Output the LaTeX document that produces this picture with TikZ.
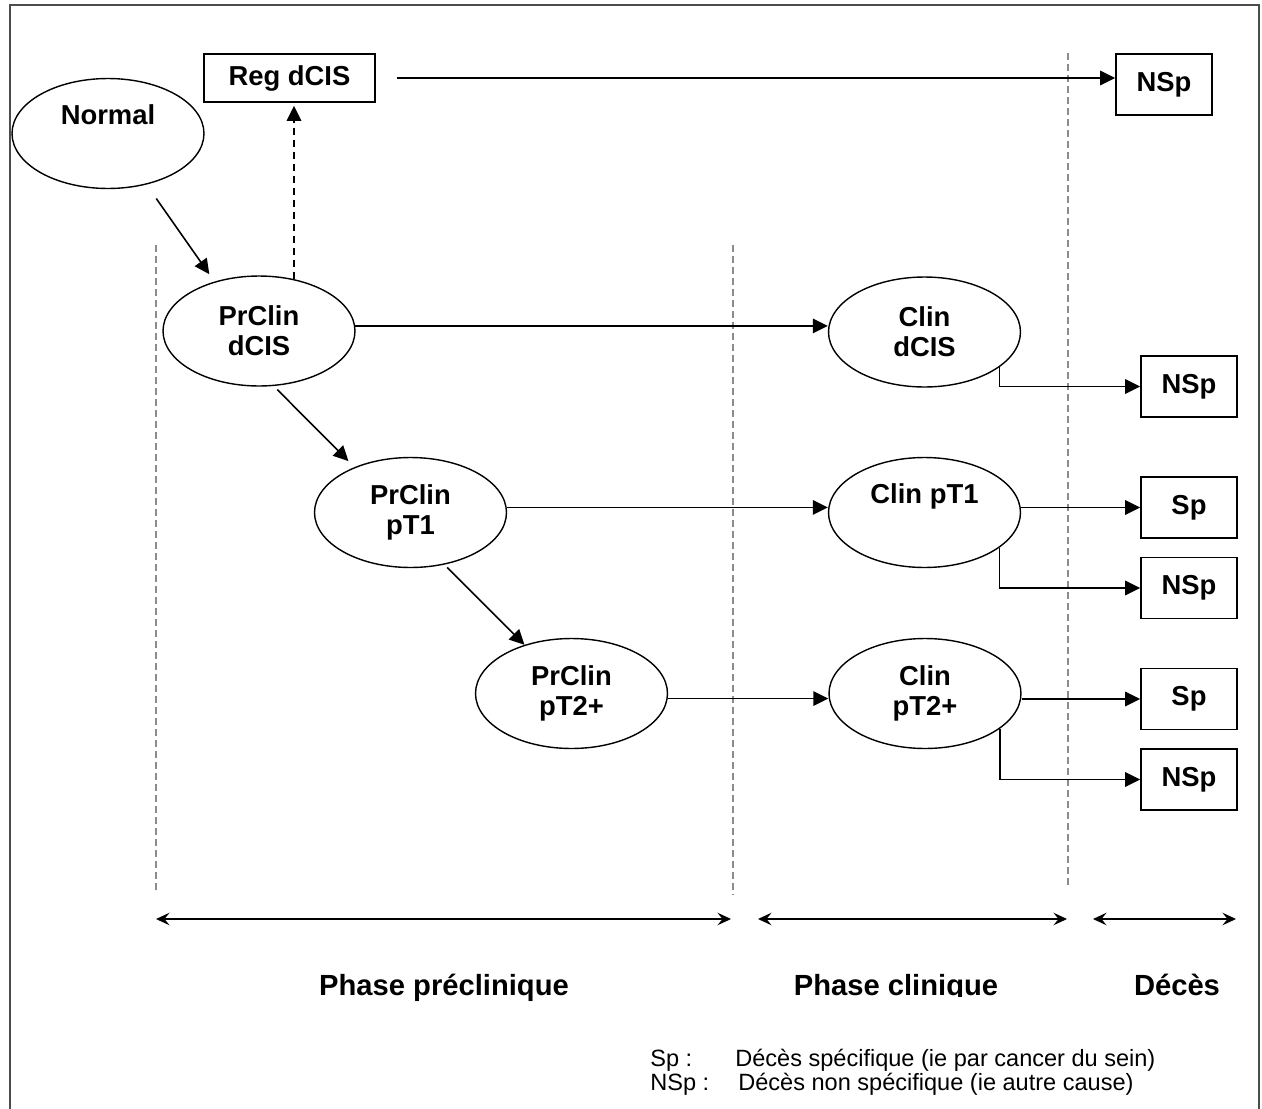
\documentclass[tikz,border=0pt]{standalone}
\usepackage{fontspec}
\setmainfont{Liberation Sans}
\usetikzlibrary{shapes,arrows.meta,positioning,calc}

\begin{document}
\begin{tikzpicture}[x=0.02cm, y=-0.02cm,
    state/.style={ellipse, draw, line width=0.8pt, minimum width=3.84cm, minimum height=2.2cm, inner sep=0pt, align=center, font=\bfseries\fontsize{15.6}{17}\selectfont},
    outcome/.style={rectangle, draw, line width=0.9pt, minimum width=1.92cm, minimum height=1.22cm, inner sep=0pt, font=\bfseries\fontsize{15.6}{17}\selectfont},
    arrow/.style={-{Triangle[length=0.3cm, width=0.29cm]}, line width=0.9pt},
    dasharrow/.style={arrow, dash pattern=on 0.14cm off 0.1cm},
    phaseline/.style={black!45, line width=0.7pt, dash pattern=on 0.14cm off 0.08cm},
    span/.style={{Stealth[length=0.27cm, width=0.25cm, inset=0.1cm]}-{Stealth[length=0.27cm, width=0.25cm, inset=0.1cm]}, line width=0.9pt},
    phase/.style={anchor=base, font=\bfseries\fontsize{16.6}{18}\selectfont},
    legend/.style={anchor=base west, inner sep=0pt, font=\fontsize{13.4}{16}\selectfont}
]
\useasboundingbox (0,0) rectangle (1262,1109);

% Frame
\draw[black!70, line width=0.9pt] (10,1109) |- (1259,5) -- (1259,1109);

% Phase separators
\draw[phaseline] (156,245) -- (156,893);
\draw[phaseline] (733,245) -- (733,895);
\draw[phaseline] (1068,53) -- (1068,887);

% Preclinical phase
\node[state] (normal) at (108,133.5) {Normal\\\strut};
\node[outcome, minimum width=3.42cm, minimum height=0.96cm] (regdcis) at (289.5,78) {Reg dCIS};
\node[state] (prdcis) at (259,331) {PrClin\\dCIS};
\node[state] (prpt1) at (410.5,512.5) {PrClin\\pT1};
\node[state] (prpt2) at (571.5,693.5) {PrClin\\pT2+};

% Clinical phase
\node[state] (clindcis) at (924.5,332) {Clin\\dCIS};
\node[state] (clinpt1) at (924.5,512.5) {Clin pT1\\\strut};
\node[state] (clinpt2) at (925,693.5) {Clin\\pT2+};

% Deaths
\node[outcome] (nsp0) at (1164,84.5) {NSp};
\node[outcome] (nsp1) at (1189,386.5) {NSp};
\node[outcome] (sp2) at (1189,507.5) {Sp};
\node[outcome] (nsp2) at (1189,588) {NSp};
\node[outcome] (sp3) at (1189,699) {Sp};
\node[outcome] (nsp3) at (1189,779.5) {NSp};

% Progression
\draw[arrow, shorten <=0.34cm, shorten >=0.18cm] (normal.-53) -- (prdcis.132);
\draw[arrow, shorten <=0.1cm, shorten >=0.17cm] (prdcis.-75) -- (prpt1.141);
\draw[arrow, shorten <=0.08cm] (prpt1.-57) -- (prpt2.134);
\draw[dasharrow, shorten >=0.06cm] (prdcis.56) -- (prdcis.56 |- regdcis.south);
\draw[arrow, shorten <=0.42cm] (regdcis.east) -- (regdcis.east -| nsp0.west);

% Diagnosis
\draw[arrow] (prdcis.3) -- (prdcis.3 -| clindcis.west);
\draw[arrow] (prpt1.3) -- (prpt1.3 -| clinpt1.west);
\draw[arrow] (prpt2.-3) -- (prpt2.-3 -| clinpt2.west);

% Death
\draw[arrow] (clindcis.-25) |- (nsp1.west);
\draw[arrow] (sp2.west -| clinpt1.east) -- (sp2.west);
\draw[arrow] (clinpt1.-25) |- (nsp2.west);
\draw[arrow] (sp3.west -| clinpt2.east) -- (sp3.west);
\draw[arrow] (clinpt2.-25) |- (nsp3.west);

% Phase spans
\draw[span] (156,919) -- (731,919);
\draw[span] (758,919) -- (1067,919);
\draw[span] (1093,919) -- (1236,919);

\node[phase] (prelabel) at (444,995) {Phase préclinique};
\begin{scope}
\clip (760,950) rectangle (1060,996);
\node[phase] (clinlabel) at (896,995) {Phase clinique};
\end{scope}
\node[phase] (declabel) at (1177,995) {Décès};

% Legend
\node[legend] (spkey) at (650,1066) {Sp :};
\node[legend] (sptext) at (735,1066) {Décès spécifique (ie par cancer du sein)};
\node[legend] (nspkey) at (650,1090) {NSp :};
\node[legend] (nsptext) at (738,1090) {Décès non spécifique (ie autre cause)};

\end{tikzpicture}
\end{document}
